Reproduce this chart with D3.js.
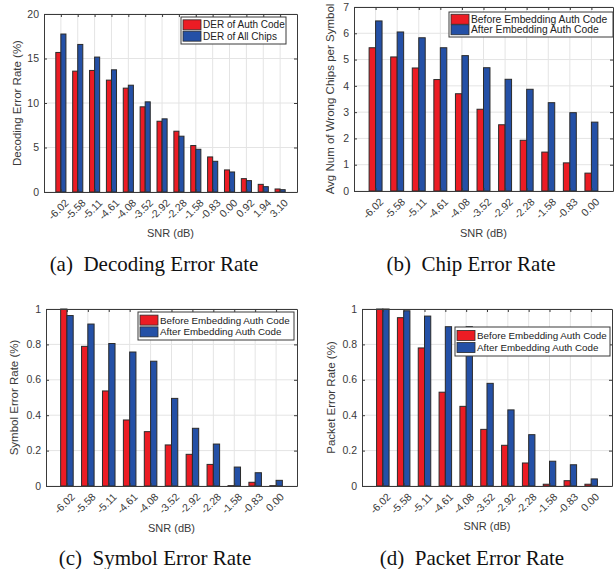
<!DOCTYPE html>
<html>
<head>
<meta charset="utf-8">
<script src="https://cdn.jsdelivr.net/npm/d3@7"></script>
<style>
  body { margin: 0; background: #fff; }
  svg { display: block; }
  text { font-family: "Liberation Sans", Arial, sans-serif; }
</style>
</head>
<body>
<script>
// ---- data ----
const snrLong = ['-6.02','-5.58','-5.11','-4.61','-4.08','-3.52','-2.92','-2.28','-1.58','-0.83','0.00','0.92','1.94','3.10'];
const snrShort = ['-6.02','-5.58','-5.11','-4.61','-4.08','-3.52','-2.92','-2.28','-1.58','-0.83','0.00'];

const derAuth = [15.68, 13.58, 13.66, 12.57, 11.67, 9.57, 7.95, 6.83, 5.22, 3.94, 2.48, 1.50, 0.86, 0.34];
const derAll  = [17.75, 16.58, 15.16, 13.73, 12.00, 10.13, 8.22, 6.27, 4.80, 3.45, 2.25, 1.28, 0.60, 0.26];

const chipBefore = [5.45, 5.10, 4.68, 4.24, 3.70, 3.11, 2.52, 1.93, 1.48, 1.07, 0.68];
const chipAfter  = [6.47, 6.05, 5.83, 5.45, 5.15, 4.69, 4.25, 3.87, 3.36, 2.98, 2.62];

const symBefore = [1.00, 0.789, 0.537, 0.373, 0.307, 0.232, 0.179, 0.122, 0.002, 0.021, 0.002];
const symAfter  = [0.963, 0.915, 0.805, 0.757, 0.705, 0.495, 0.326, 0.237, 0.107, 0.075, 0.032];

const pktBefore = [1.00, 0.951, 0.78, 0.53, 0.45, 0.32, 0.23, 0.13, 0.01, 0.03, 0.01];
const pktAfter  = [1.00, 0.99, 0.96, 0.90, 0.90, 0.58, 0.43, 0.29, 0.14, 0.12, 0.04];

const ticksA = [0, 5, 10, 15, 20];
const ticksB = [0, 1, 2, 3, 4, 5, 6, 7];
const ticksCD = [0, 0.2, 0.4, 0.6, 0.8, 1];

const legendA = ['DER of Auth Code', 'DER of All Chips'];
const legendB = ['Before Embedding Auth Code', 'After Embedding Auth Code'];

const red = '#ec1c24';
const blue = '#2450a6';
const ink = '#3a3a3a';

let svg = d3.select('body').append('svg')
  .attr('width', 614)
  .attr('height', 569);

function panel(p) {
  let g = svg.append('g');

  let x = d3.scalePoint()
    .domain(p.cats)
    .range([p.x0, p.x1])
    .padding(1);
  let y = d3.scaleLinear()
    .domain([0, p.ticks[p.ticks.length - 1]])
    .range([p.y1, p.y0]);
  let bw = x.step() * 0.3;

  // grid
  g.selectAll('.gy').data(p.ticks).enter().append('line')
    .attr('x1', p.x0).attr('x2', p.x1)
    .attr('y1', d => y(d)).attr('y2', d => y(d))
    .attr('stroke', '#e4e4e4').attr('stroke-width', 1);
  g.selectAll('.gx').data(p.cats).enter().append('line')
    .attr('x1', d => x(d)).attr('x2', d => x(d))
    .attr('y1', p.y0).attr('y2', p.y1)
    .attr('stroke', '#e4e4e4').attr('stroke-width', 1);

  // bars
  [[p.s1, red, -bw], [p.s2, blue, 0]].forEach(([vals, col, off]) => {
    g.selectAll(null).data(vals).enter().append('rect')
      .attr('x', (d, i) => x(p.cats[i]) + off)
      .attr('y', d => y(d))
      .attr('width', bw)
      .attr('height', d => p.y1 - y(d))
      .attr('fill', col)
      .attr('stroke', '#2b2b2b')
      .attr('stroke-width', 1);
  });

  // axes (box with inner ticks like matlab)
  let xAxis = d3.axisBottom(x).tickSizeInner(-3).tickSizeOuter(0).tickFormat('');
  let xTop = d3.axisTop(x).tickSizeInner(-3).tickSizeOuter(0).tickFormat('');
  let yAxis = d3.axisLeft(y).tickValues(p.ticks).tickSizeInner(-3).tickSizeOuter(0).tickFormat('');
  let yRight = d3.axisRight(y).tickValues(p.ticks).tickSizeInner(-3).tickSizeOuter(0).tickFormat('');

  [[xAxis, `translate(0,${p.y1})`], [xTop, `translate(0,${p.y0})`],
   [yAxis, `translate(${p.x0},0)`], [yRight, `translate(${p.x1},0)`]].forEach(([ax, tr]) => {
    let a = g.append('g').attr('transform', tr).call(ax);
    a.selectAll('path,line').attr('stroke', ink).attr('stroke-width', 1);
  });

  // tick labels
  g.selectAll(null).data(p.ticks).enter().append('text')
    .attr('x', p.x0 - 5)
    .attr('y', d => y(d))
    .attr('dy', '0.35em')
    .attr('text-anchor', 'end')
    .attr('font-size', 10.5)
    .attr('fill', ink)
    .text(d => d3.format('~g')(d));

  g.selectAll(null).data(p.cats).enter().append('text')
    .attr('transform', d => 'translate(' + (x(d) + 6) + ',' + (p.y1 + 9) + ')rotate(-45)')
    .attr('dy', '0.35em')
    .attr('text-anchor', 'end')
    .attr('font-size', 10.5)
    .attr('fill', ink)
    .text(d => d);

  // axis labels
  g.append('text')
    .attr('text-anchor', 'middle')
    .attr('transform', 'translate(' + p.ylabX + ',' + ((p.y0 + p.y1) / 2) + ')rotate(-90)')
    .attr('font-size', 11.5)
    .attr('fill', ink)
    .text(p.ylab);

  g.append('text')
    .attr('text-anchor', 'middle')
    .attr('x', (p.x0 + p.x1) / 2)
    .attr('y', p.xlabY)
    .attr('font-size', 11)
    .attr('fill', ink)
    .text('SNR (dB)');

  // legend
  let L = p.leg;
  let lg = g.append('g');
  lg.append('rect')
    .attr('x', L.x).attr('y', L.y).attr('width', L.w).attr('height', L.h)
    .attr('fill', '#fff').attr('stroke', ink).attr('stroke-width', 1);
  p.names.forEach((name, i) => {
    let cy = L.y + L.h * (i === 0 ? 0.29 : 0.71);
    lg.append('rect')
      .attr('x', L.x + 2).attr('y', cy - 5)
      .attr('width', 18).attr('height', 10)
      .attr('fill', i === 0 ? red : blue)
      .attr('stroke', '#2b2b2b').attr('stroke-width', 0.8);
    lg.append('text')
      .attr('x', L.x + 22).attr('y', cy)
      .attr('dy', '0.35em')
      .attr('font-size', L.fs)
      .attr('fill', '#222')
      .text(name);
  });

  // caption
  g.append('text')
    .attr('x', p.capX)
    .attr('y', p.capY)
    .attr('text-anchor', 'middle')
    .attr('font-size', 21)
    .attr('fill', '#111')
    .style('font-family', '"Liberation Serif", "Times New Roman", serif')
    .style('white-space', 'pre')
    .text(p.caption);
}

panel({ cats: snrLong, s1: derAuth, s2: derAll, names: legendA, ticks: ticksA,
  x0: 44, x1: 297, y0: 14, y1: 192, ylab: 'Decoding Error Rate (%)', ylabX: 21, xlabY: 237,
  caption: '(a)  Decoding Error Rate', capX: 154, capY: 271,
  leg: { x: 181, y: 17, w: 105, h: 27, fs: 10 } });

panel({ cats: snrShort, s1: chipBefore, s2: chipAfter, names: legendB, ticks: ticksB,
  x0: 354, x1: 613, y0: 7, y1: 191, ylab: 'Avg Num of Wrong Chips per Symbol', ylabX: 334, xlabY: 237,
  caption: '(b)  Chip Error Rate', capX: 471, capY: 271,
  leg: { x: 449, y: 12, w: 164, h: 25, fs: 10.3 } });

panel({ cats: snrShort, s1: symBefore, s2: symAfter, names: legendB, ticks: ticksCD,
  x0: 46, x1: 297, y0: 309, y1: 486, ylab: 'Symbol Error Rate (%)', ylabX: 18, xlabY: 532,
  caption: '(c)  Symbol Error Rate', capX: 155, capY: 565,
  leg: { x: 138, y: 312, w: 156, h: 28, fs: 9.8 } });

panel({ cats: snrShort, s1: pktBefore, s2: pktAfter, names: legendB, ticks: ticksCD,
  x0: 362, x1: 612, y0: 309, y1: 486, ylab: 'Packet Error Rate (%)', ylabX: 335, xlabY: 530,
  caption: '(d)  Packet Error Rate', capX: 472, capY: 565,
  leg: { x: 455, y: 327, w: 155, h: 29, fs: 9.8 } });
</script>
</body>
</html>
